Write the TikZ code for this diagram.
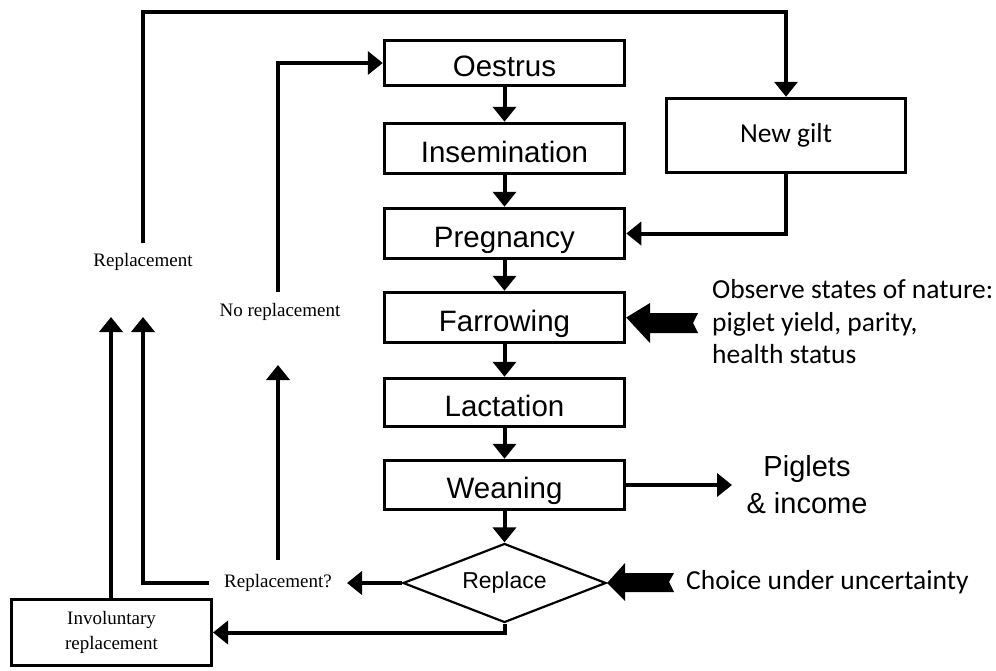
\documentclass[tikz,border=0pt]{standalone}
\usepackage{fontspec}
\setmainfont{Liberation Serif}
\newfontfamily\arialf{Liberation Sans}
\newfontfamily\calf{Carlito}
\usetikzlibrary{arrows.meta,shapes.geometric}

\begin{document}
\begin{tikzpicture}[x=1pt,y=-1pt,
 stepbox/.style={draw, line width=3.5pt, minimum width=240pt, inner sep=0pt, text height=27pt, text depth=0pt, font=\arialf\fontsize{29.5}{32}\selectfont},
 conn/.style={line width=4pt, -{Triangle[length=15pt,width=23pt]}},
 serif/.style={font=\fontsize{19}{25}\selectfont, inner sep=0pt},
 calib/.style={font=\calf\fontsize{27.5}{32.5}\selectfont, inner sep=0pt}]
\useasboundingbox (0,0) rectangle (996,670);

% process boxes
\node[stepbox, minimum height=45pt] (oes)  at (504.5,63)    {Oestrus};
\node[stepbox, minimum height=50pt] (ins)  at (504.5,148.5) {Insemination};
\node[stepbox, minimum height=50pt] (preg) at (504.5,233.5) {Pregnancy};
\node[stepbox, minimum height=50pt] (farr) at (504.5,317.5) {Farrowing};
\node[stepbox, minimum height=48pt] (lact) at (504.5,402.5) {Lactation};
\node[stepbox, minimum height=49pt] (wean) at (504.5,485)   {Weaning};
\node[draw, diamond, aspect=2.5, line width=2.2pt, minimum width=203pt, minimum height=79pt,
      inner sep=0pt, font=\arialf\fontsize{23}{26}\selectfont] (rep) at (504.5,583) {Replace};

\node[draw, line width=3.5pt, minimum width=239pt, minimum height=74pt, calib] (gilt) at (786,135.5) {New gilt};
\node[draw, line width=3pt, minimum width=200pt, minimum height=66pt, align=center, serif] (invol) at (111.5,632.5) {Involuntary\\replacement};

% labels
\node[serif] (repl) at (143,262) {Replacement};
\node[serif] (norepl) at (280,312) {No replacement};
\node[serif, inner xsep=15pt] (repq) at (278,583) {Replacement?};
\node[calib, anchor=west, align=left] (obs) at (712,322) {Observe states of nature:\\piglet yield, parity,\\health status};
\node[font=\arialf\fontsize{29}{37}\selectfont, align=center, inner sep=0pt] (pig) at (807,485) {Piglets\\\& income};
\node[calib, anchor=west] (choice) at (686,582) {Choice under uncertainty};

% coordinates for free ends
\coordinate (replstart) at (143,243);
\coordinate (upA) at (111,317);
\coordinate (upB) at (143,317);
\coordinate (nrA) at (278,560);
\coordinate (nrB) at (278,365);
\coordinate (nrC) at (278,292);
\coordinate (pigtip) at (732,485);

% main chain
\foreach \a/\b in {oes/ins, ins/preg, preg/farr, farr/lact, lact/wean, wean/rep}
  \draw[conn] (\a.south) -- (\b.north);

% loops
\draw[conn] (replstart) |- (143,12) -| (gilt.north);
\draw[conn] (gilt.south) |- (preg.east);
\draw[conn] (nrC) |- (oes.west);
\draw[conn] (nrA) -- (nrB);
\draw[conn] (rep.west) -- (repq.east);
\draw[conn] (repq.west) -| (upB);
\draw[conn] (invol.north -| upA) -- (upA);
\draw[conn] (rep.south) |- (invol.east);
\draw[conn] (wean.east) -- (pigtip);

% block arrows
\fill (farr.east) -- (650,303) -- (650,313) -- (698,313) -- (693,323) -- (698,333) -- (650,333) -- (650,343) -- cycle;
\fill (rep.east) -- (625,563) -- (625,573) -- (674,573) -- (669,582) -- (674,592) -- (625,592) -- (625,601) -- cycle;
\end{tikzpicture}
\end{document}
